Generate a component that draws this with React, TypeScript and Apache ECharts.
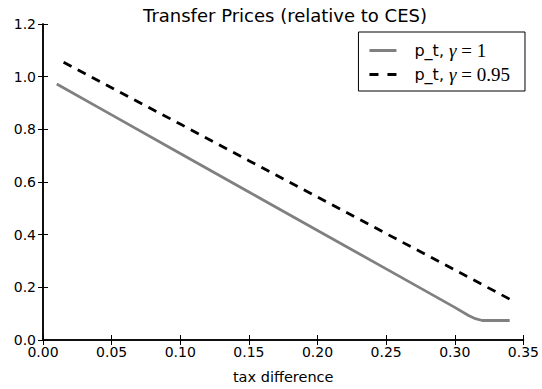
import React, { useEffect, useRef } from "react";
import * as echarts from "echarts";

// Tax difference vs. transfer price, for two elasticity settings
const taxDiffUnit: number[] = [0.01, 0.05, 0.10, 0.15, 0.20, 0.25, 0.30, 0.31, 0.315, 0.32, 0.34];
const priceUnit: number[] = [0.972, 0.855, 0.708, 0.562, 0.416, 0.27, 0.124, 0.093, 0.081, 0.074, 0.074];

const taxDiffGamma: number[] = [0.015, 0.05, 0.10, 0.15, 0.20, 0.25, 0.30, 0.34];
const priceGamma: number[] = [1.055, 0.958, 0.820, 0.681, 0.543, 0.404, 0.266, 0.155];

const seriesNames: string[] = ["p_t, γ=1", "p_t, γ=0.95"];
const xTicks: number[] = [0, 0.05, 0.1, 0.15, 0.2, 0.25, 0.3, 0.35];
const yTicks: number[] = [0, 0.2, 0.4, 0.6, 0.8, 1.0, 1.2];

const SANS = "DejaVu Sans";
const SERIF = "Liberation Serif";

// Legend keys: a solid bar and a two-dash bar
const SOLID_KEY = "path://M0,0h27v3h-27z";
const DASH_KEY = "path://M0,0h9v3h-9z M18,0h9v3h-9z";

export default function App() {
  const ref = useRef<HTMLDivElement>(null);

  useEffect(() => {
    if (!ref.current) return;
    const chart = echarts.init(ref.current, undefined, { renderer: "svg" });

    const pairs = (xs: number[], ys: number[]) => xs.map((x, i) => [x, ys[i]]);

    const axisCommon = {
      axisLine: { show: true, lineStyle: { color: "#000", width: 1.5 } },
      axisTick: { show: true, inside: true, length: 5, lineStyle: { color: "#000", width: 1 } },
      splitLine: { show: false },
    };

    chart.setOption({
      animation: false,
      backgroundColor: "#fff",
      title: {
        text: "Transfer Prices (relative to CES)",
        left: 280,
        textAlign: "center",
        top: 1,
        textStyle: { fontFamily: SANS, fontSize: 18, fontWeight: "normal", color: "#000" },
      },
      grid: { left: 43, right: 15, top: 24, bottom: 43, containLabel: false },
      legend: {
        orient: "vertical",
        right: 17,
        top: 32,
        data: [
          { name: seriesNames[0], icon: SOLID_KEY, itemStyle: { color: "#808080" } },
          { name: seriesNames[1], icon: DASH_KEY, itemStyle: { color: "#000" } },
        ],
        itemWidth: 27,
        itemHeight: 3,
        itemGap: 5,
        padding: [9, 15, 7, 11],
        borderColor: "#000",
        borderWidth: 1,
        borderRadius: 0,
        backgroundColor: "#fff",
        formatter: (name: string) => {
          const [lead, math] = name.split(", ");
          const [sym, val] = math.split("=");
          return `{s|}{a|${lead}, }{g|${sym}}{m| = ${val}}`;
        },
        textStyle: {
          rich: {
            s: { width: 13, height: 21 },
            a: { fontFamily: SANS, fontSize: 16, color: "#000", height: 21 },
            g: { fontFamily: SERIF, fontSize: 19, fontStyle: "italic", color: "#000", height: 21 },
            m: { fontFamily: SERIF, fontSize: 19, color: "#000", height: 21 },
          },
        },
      },
      xAxis: [
        {
          type: "value",
          min: xTicks[0],
          max: xTicks[xTicks.length - 1],
          interval: 0.05,
          name: "tax difference",
          nameLocation: "middle",
          nameGap: 29,
          nameTextStyle: { fontFamily: SANS, fontSize: 14.5, color: "#000" },
          ...axisCommon,
          axisLabel: {
            fontFamily: SANS,
            fontSize: 14,
            color: "#000",
            margin: 5,
            formatter: (v: number) => v.toFixed(2),
          },
        },
        {
          type: "value",
          position: "top",
          min: xTicks[0],
          max: xTicks[xTicks.length - 1],
          interval: 0.05,
          ...axisCommon,
          axisLabel: { show: false },
        },
      ],
      yAxis: [
        {
          type: "value",
          min: yTicks[0],
          max: yTicks[yTicks.length - 1],
          interval: 0.2,
          ...axisCommon,
          axisLabel: {
            fontFamily: SANS,
            fontSize: 14,
            color: "#000",
            margin: 7,
            formatter: (v: number) => v.toFixed(1),
          },
        },
        {
          type: "value",
          position: "right",
          min: yTicks[0],
          max: yTicks[yTicks.length - 1],
          interval: 0.2,
          ...axisCommon,
          axisLabel: { show: false },
        },
      ],
      series: [
        {
          name: seriesNames[0],
          type: "line",
          data: pairs(taxDiffUnit, priceUnit),
          showSymbol: false,
          symbol: "none",
          color: "#808080",
          lineStyle: { color: "#808080", width: 2.8 },
        },
        {
          name: seriesNames[1],
          type: "line",
          data: pairs(taxDiffGamma, priceGamma),
          showSymbol: false,
          symbol: "none",
          color: "#000",
          lineStyle: { color: "#000", width: 2.8, type: [9, 7] },
        },
      ],
    });

    return () => chart.dispose();
  }, []);

  return (
    <div
      ref={ref}
      style={{ position: "fixed", left: 0, top: 0, width: 542, height: 389 }}
    />
  );
}
